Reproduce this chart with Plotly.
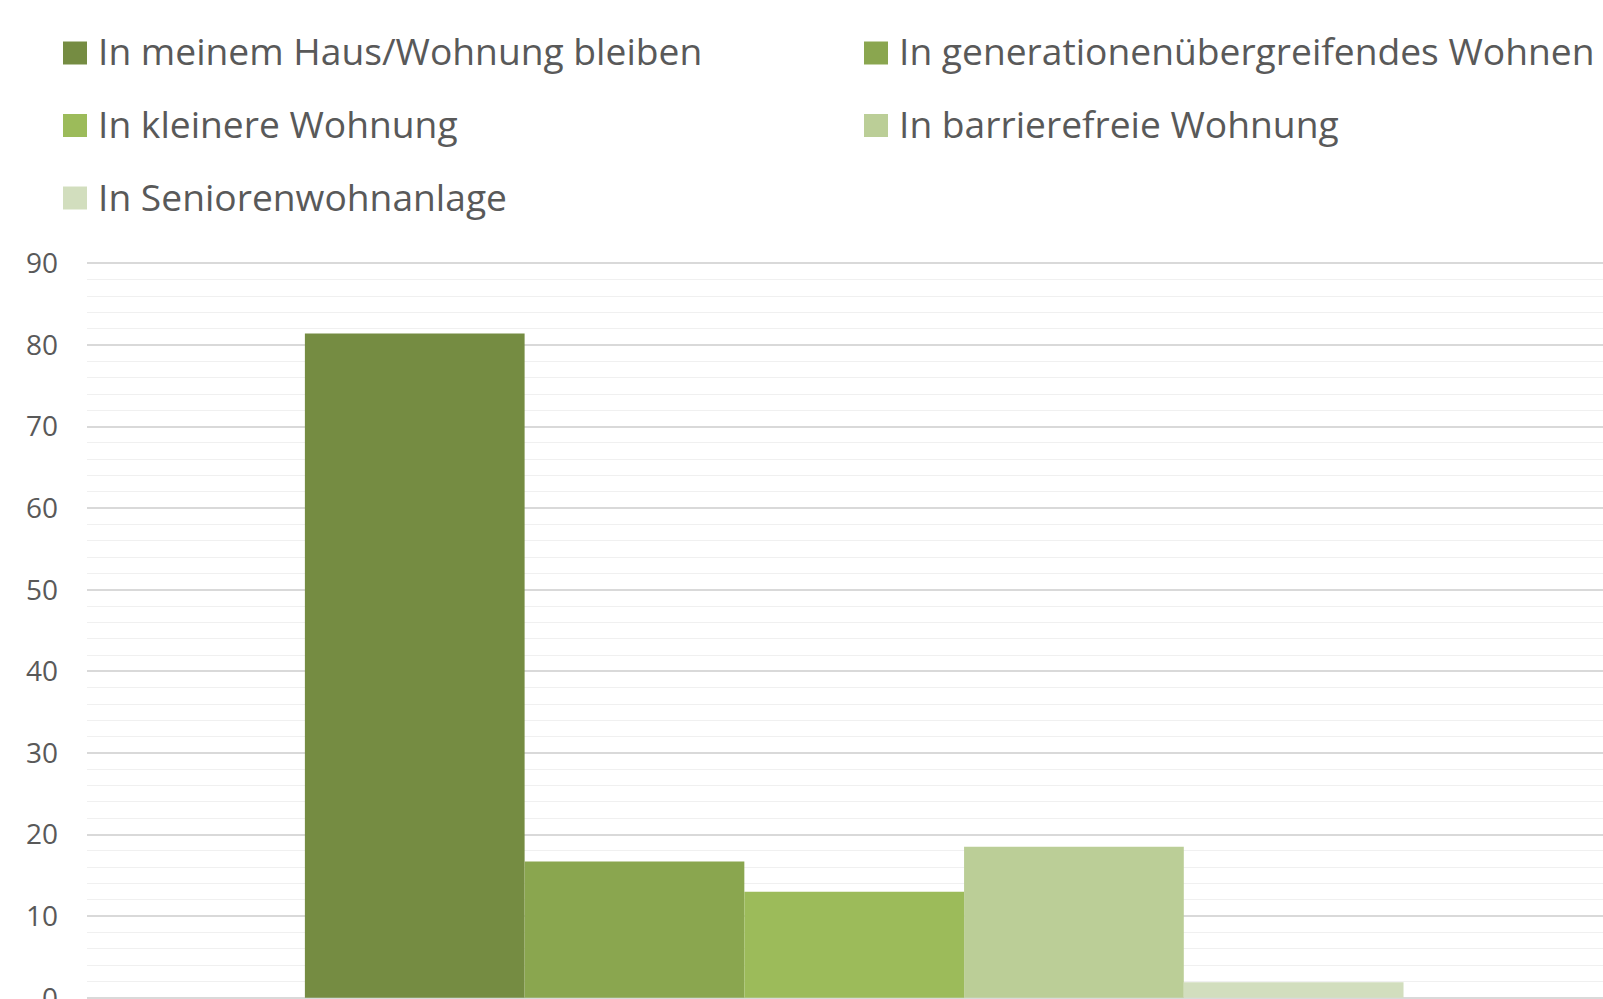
import plotly.graph_objects as go

# survey answers (percent)
series_names = [
    "In meinem Haus/Wohnung bleiben",
    "In generationenübergreifendes Wohnen",
    "In kleinere Wohnung",
    "In barrierefreie Wohnung",
    "In Seniorenwohnanlage",
]
series_values = [81.4, 16.7, 13.0, 18.5, 1.9]
series_colors = ["#758C42", "#8AA64F", "#9CBB5A", "#BBCE97", "#D2DEBE"]
category = [""]

W, H = 1603, 999
ML, MT = 87, 261
PW, PH = W - ML, H - MT

def px_x(x):
    return (x - ML) / PW

def px_y(y):
    return (H - y) / PH

fig = go.Figure()
for name, val, col in zip(series_names, series_values, series_colors):
    fig.add_trace(go.Bar(x=category, y=[val], name=name, marker_color=col,
                         marker_line_width=0, showlegend=False))

# hand made legend (two columns) so the swatches can be as big as in the original
shapes = []
annotations = []
for i, (name, col) in enumerate(zip(series_names, series_colors)):
    row, c = i // 2, i % 2
    sx = 63 if c == 0 else 864
    cy = 53 + row * 72.5
    shapes.append(dict(type="rect", xref="paper", yref="paper",
                       x0=px_x(sx), x1=px_x(sx + 24),
                       y0=px_y(cy + 11.5), y1=px_y(cy - 11.5),
                       fillcolor=col, line_width=0))
    annotations.append(dict(text=name, xref="paper", yref="paper",
                            x=px_x(sx + 33), y=px_y(cy - 2),
                            xanchor="left", yanchor="middle", showarrow=False,
                            font=dict(size=37.2, color="#595959")))

fig.update_layout(
    width=W, height=H,
    margin=dict(l=ML, r=0, t=MT, b=0, pad=0),
    paper_bgcolor="white", plot_bgcolor="white",
    font=dict(family="'Open Sans', sans-serif", color="#595959"),
    barmode="group", bargap=0.284, bargroupgap=0,
    shapes=shapes, annotations=annotations,
    showlegend=False,
)
fig.update_xaxes(range=[-0.5, 0.488], showticklabels=False, showgrid=False,
                 zeroline=False, showline=False, automargin=False)
fig.update_yaxes(range=[-0.15, 90.3], dtick=10, tick0=0,
                 showgrid=True, gridcolor="#D9D9D9", gridwidth=1.5,
                 minor=dict(dtick=2, showgrid=True, gridcolor="#F0F0F0", gridwidth=1.2),
                 zeroline=False, showline=False,
                 tickfont=dict(size=28, color="#595959"),
                 ticklabelstandoff=28, ticklabeloverflow="allow",
                 automargin=False)

fig.write_html("out.html", config={"displayModeBar": False},
               post_script="document.body.style.margin='0';")
